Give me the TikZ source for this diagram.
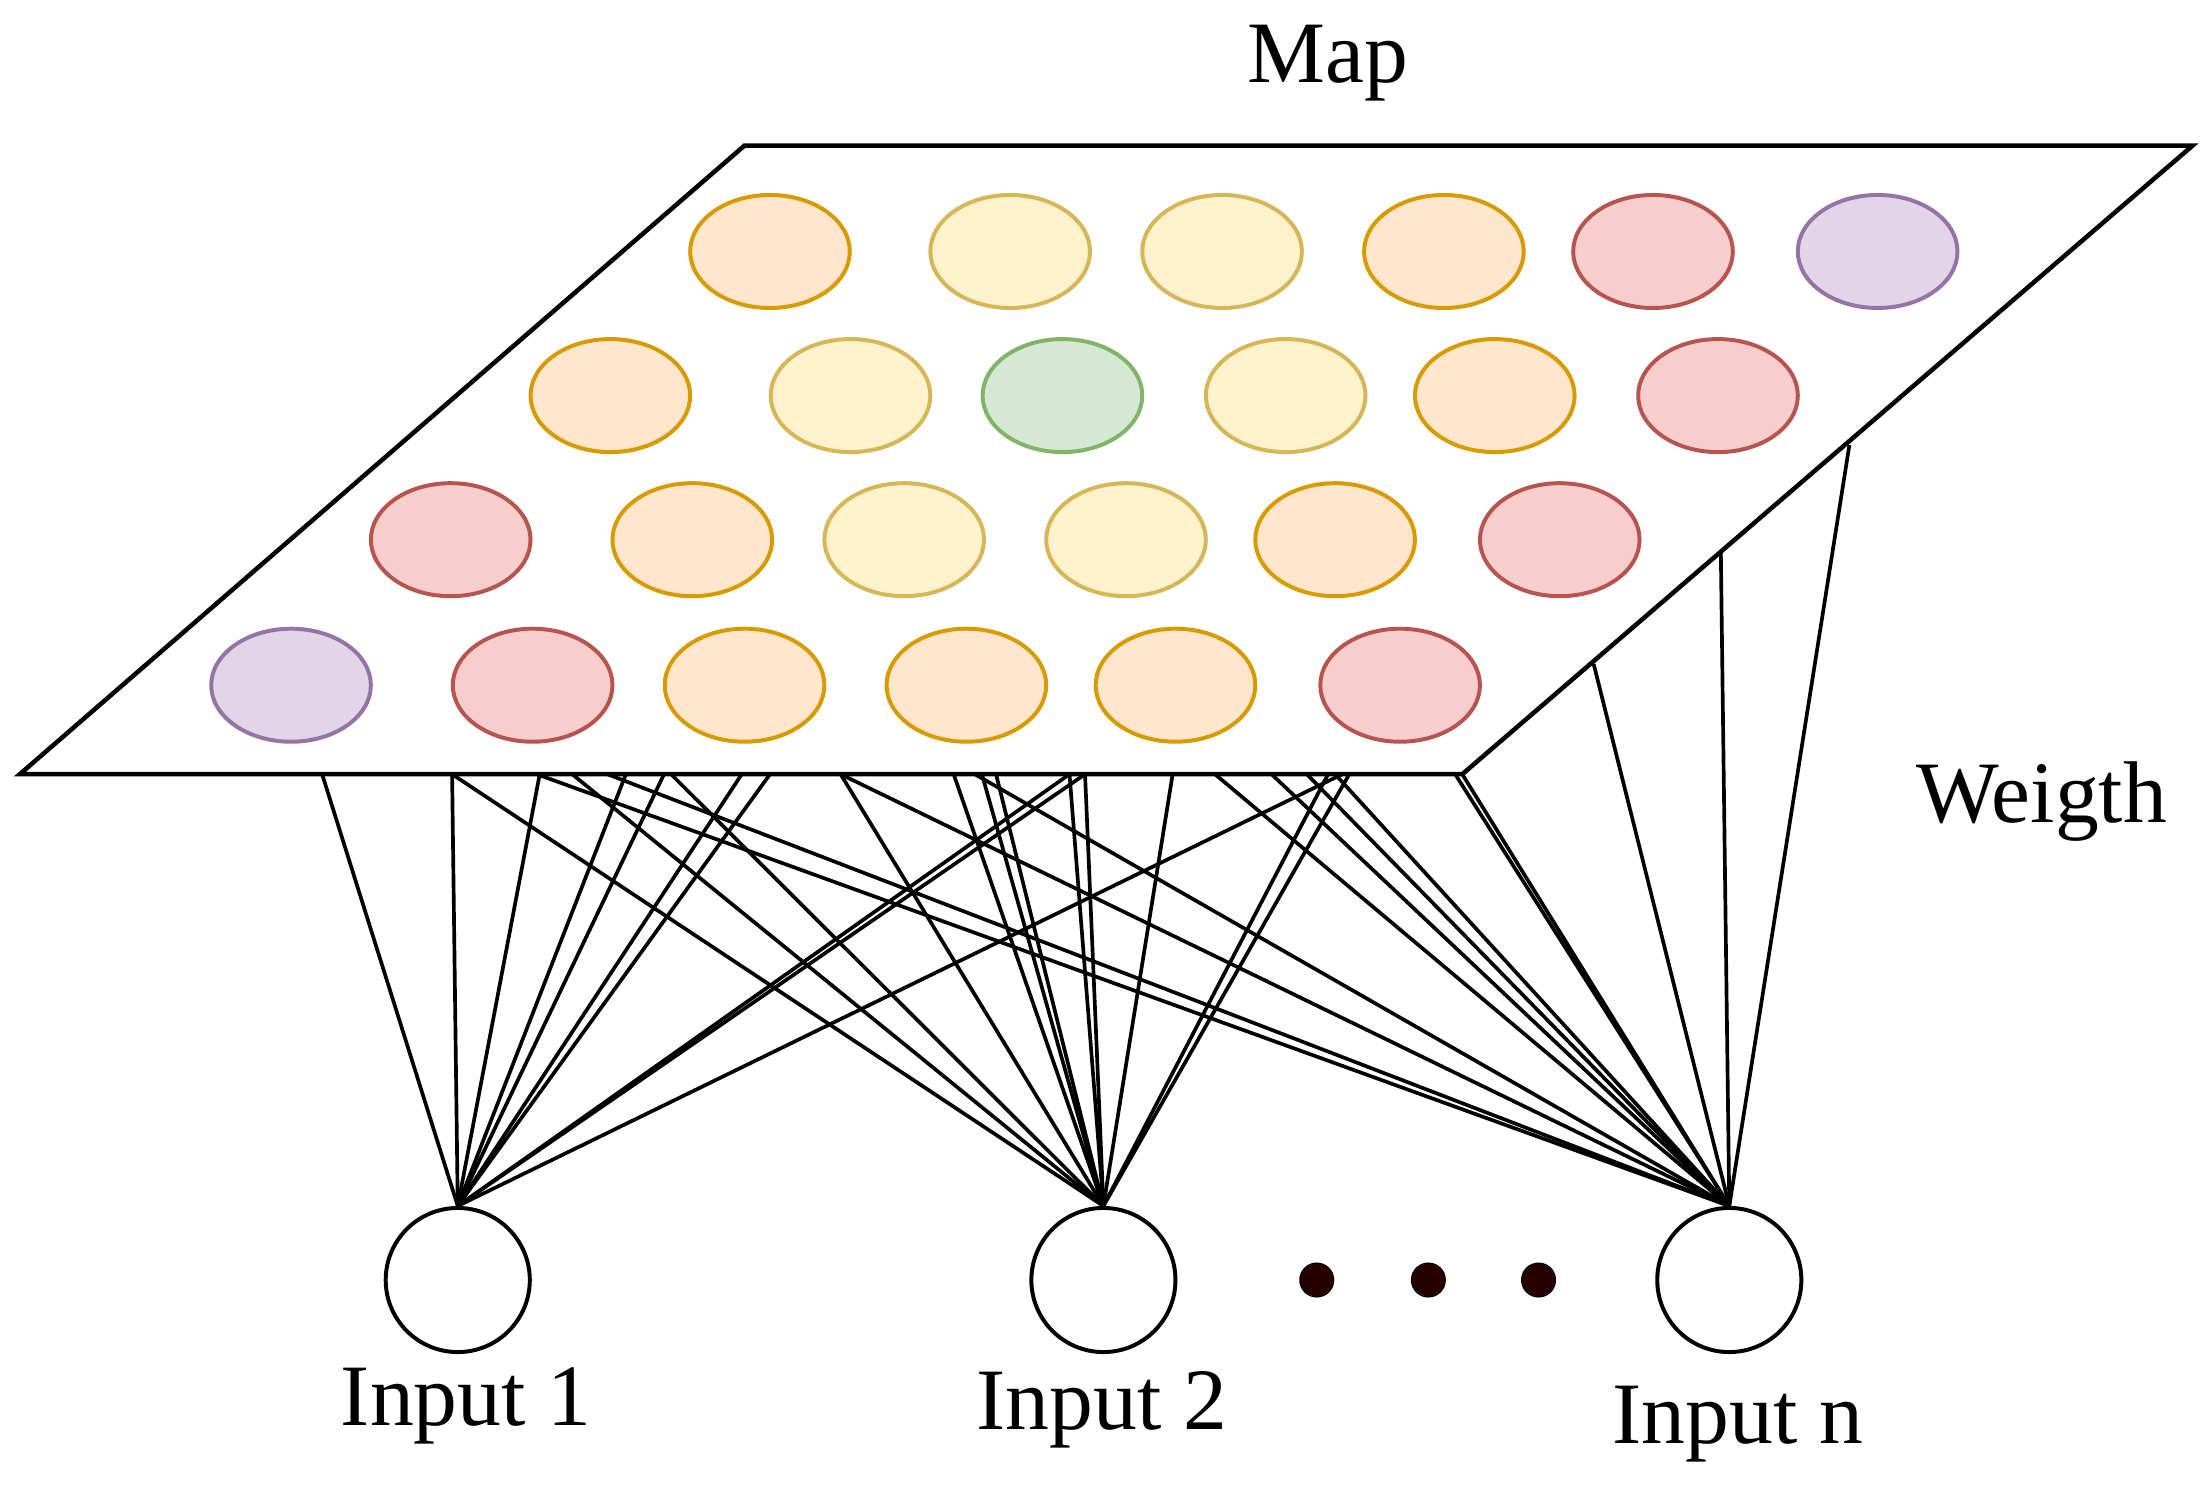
\documentclass[tikz,border=0pt]{standalone}
\usepackage{fontspec}
\setmainfont{Liberation Serif}
\usetikzlibrary{shapes.geometric}
\begin{document}
\begin{tikzpicture}[x=0.5pt,y=-0.5pt,
 cell/.style={ellipse,minimum width=56.5pt,minimum height=40pt,inner sep=0,line width=1.4pt},
 inp/.style={circle,draw,line width=1.4pt,minimum size=51pt,inner sep=0},
 w/.style={line width=1.3pt},
 lbl/.style={font=\fontsize{31}{36}\selectfont}]
\useasboundingbox (0,0) rectangle (1560,1064);
\definecolor{oF}{HTML}{FFE6CC}\definecolor{oD}{HTML}{D79B00}
\definecolor{yF}{HTML}{FFF2CC}\definecolor{yD}{HTML}{D6B656}
\definecolor{rF}{HTML}{F8CECC}\definecolor{rD}{HTML}{B85450}
\definecolor{pF}{HTML}{E1D5E7}\definecolor{pD}{HTML}{9673A6}
\definecolor{gF}{HTML}{D5E8D4}\definecolor{gD}{HTML}{82B366}
\tikzset{cO/.style={cell,fill=oF,draw=oD},cY/.style={cell,fill=yF,draw=yD},
 cR/.style={cell,fill=rF,draw=rD},cP/.style={cell,fill=pF,draw=pD},cG/.style={cell,fill=gF,draw=gD}}
\node[inp] (i1) at (324,906) {};
\node[inp] (i2) at (781,906) {};
\node[inp] (in) at (1224,906) {};
% connectors
\foreach \x in {228,320,382,443,470,525,545,757,768,950}{\coordinate (s) at (\x,548); \draw[w] (s) -- (i1.north);}
\foreach \x in {320,405,475,595,675,695,705,757,768,830,940,955}{\coordinate (s) at (\x,548); \draw[w] (s) -- (i2.north);}
\foreach \x in {380,430,595,690,860,900,925,945,1030,1035}{\coordinate (s) at (\x,548); \draw[w] (s) -- (in.north);}
\coordinate (e1) at (1128,470); \coordinate (e2) at (1218,390); \coordinate (e3) at (1309,315);
\foreach \e in {e1,e2,e3}{\draw[w] (\e) -- (in.north);}
% map plane
\draw[line width=1.6pt,fill=white] (527,103) -- (1552,103) -- (1035,548) -- (14,548) -- cycle;
\foreach \s/\x in {cO/545,cY/715,cY/865,cO/1022,cR/1170,cP/1329}{\node[\s] at (\x,178) {};}
\foreach \s/\x in {cO/432,cY/602,cG/752,cY/910,cO/1058,cR/1216}{\node[\s] at (\x,280) {};}
\foreach \s/\x in {cR/319,cO/490,cY/640,cY/797,cO/945,cR/1104}{\node[\s] at (\x,382) {};}
\foreach \s/\x in {cP/206,cR/377,cO/527,cO/684,cO/832,cR/991}{\node[\s] at (\x,485) {};}
\foreach \x in {932,1011,1089}{\node[circle,fill=black!85!red,draw=black,minimum size=12pt,inner sep=0] at (\x,906) {};}
\node[lbl] (map) at (940,45) {Map};
\node[lbl] (wt) at (1445,567) {Weigth};
\node[lbl] (l1) at (330,995) {Input 1};
\node[lbl] (l2) at (780,998) {Input 2};
\node[lbl] (ln) at (1230,1008) {Input n};
\end{tikzpicture}
\end{document}
